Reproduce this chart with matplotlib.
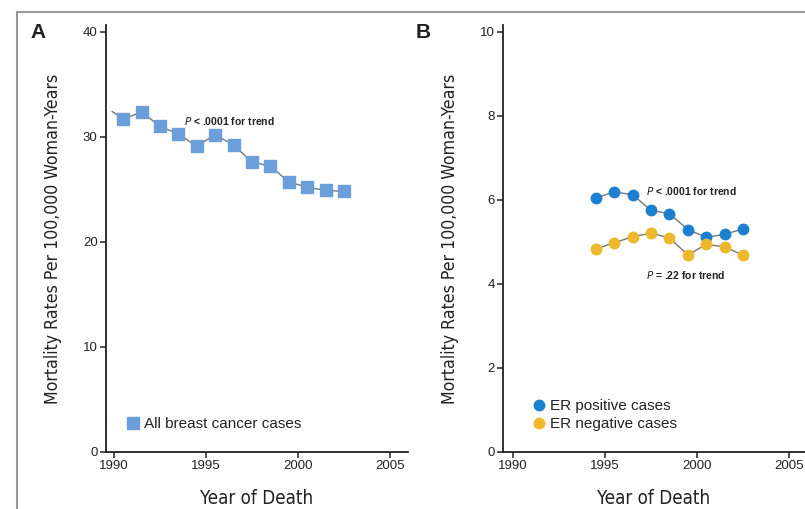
import matplotlib.pyplot as plt
from matplotlib.lines import Line2D

plt.rcParams["font.family"] = ["Liberation Sans", "DejaVu Sans"]

# Panel A: all breast cancer cases (first entry is the line start only)
years_a = [1989.9, 1990.5, 1991.5, 1992.5, 1993.5, 1994.5, 1995.5, 1996.5,
           1997.5, 1998.5, 1999.5, 2000.5, 2001.5, 2002.5]
rate_all = [32.4, 31.7, 32.35, 31.0, 30.25, 29.1, 30.2, 29.2,
            27.6, 27.2, 25.7, 25.2, 24.9, 24.8]

# Panel B: by ER status
years_b = [1994.5, 1995.5, 1996.5, 1997.5, 1998.5, 1999.5, 2000.5, 2001.5, 2002.5]
rate_er_pos = [6.04, 6.19, 6.12, 5.75, 5.67, 5.29, 5.11, 5.18, 5.31]
rate_er_neg = [4.83, 4.98, 5.12, 5.21, 5.09, 4.69, 4.94, 4.88, 4.68]

xticks = [1990, 1995, 2000, 2005]
ylabel = "Mortality Rates Per 100,000 Woman-Years"
xlabel = "Year of Death"

txt = "#222222"
line_col = "#777777"
sq_col = "#6A9FDB"
pos_col = "#1C7FD0"
neg_col = "#EDB82A"

W, H = 805, 509
fig = plt.figure(figsize=(W / 100, H / 100), dpi=100)

lab_font = dict(family=["DejaVu Sans", "Liberation Sans"], stretch="condensed")


def px_axes(left, top, right, bottom):
    return fig.add_axes([left / W, 1 - bottom / H, (right - left) / W, (bottom - top) / H])


def style(ax, ylim, yticks):
    for s in ["top", "right"]:
        ax.spines[s].set_visible(False)
    for s in ["left", "bottom"]:
        ax.spines[s].set_linewidth(1.3)
        ax.spines[s].set_color("#222222")
    ax.set_ylim(ylim)
    ax.set_yticks(yticks)
    ax.set_xticks(xticks)
    ax.tick_params(direction="out", length=4, width=1.1, colors="#222222",
                   labelsize=9.5, labelcolor=txt, pad=2)
    ax.set_xlabel(xlabel, fontsize=13.5, color=txt, labelpad=12, **lab_font)
    ax.set_ylabel(ylabel, fontsize=12.7, color=txt, labelpad=15, **lab_font)


# Panel A
ax1 = px_axes(106, 25, 408, 452)
ax1.set_xlim(1989.56, 2005.98)
ax1.plot(years_a, rate_all, color=line_col, lw=1.0, marker="s", ms=8.5,
         mfc=sq_col, mec=sq_col, markevery=list(range(1, len(years_a))), zorder=3)
style(ax1, (0, 40.64), [0, 10, 20, 30, 40])
ax1.text(1993.8, 31.5, "$\\it{P}$ < .0001 for trend", fontsize=7.5, color=txt,
         fontweight="bold", va="center")
ax1.legend(handles=[Line2D([], [], ls="none", marker="s", ms=8, mfc=sq_col, mec=sq_col,
                           label="All breast cancer cases")],
           loc="lower left", bbox_to_anchor=(0.05, 0.035), frameon=False,
           fontsize=11, handlelength=0.8, handletextpad=0.3, borderaxespad=0,
           labelcolor=txt)

# Panel B
ax2 = px_axes(503, 25, 805, 452)
ax2.set_xlim(1989.47, 2005.85)
ax2.plot(years_b, rate_er_pos, color=line_col, lw=1.0, marker="o", ms=7.5,
         mfc=pos_col, mec=pos_col, zorder=3, label="ER positive cases")
ax2.plot(years_b, rate_er_neg, color=line_col, lw=1.0, marker="o", ms=7.5,
         mfc=neg_col, mec=neg_col, zorder=3, label="ER negative cases")
style(ax2, (0, 10.16), [0, 2, 4, 6, 8, 10])
ax2.text(1997.2, 6.2, "$\\it{P}$ < .0001 for trend", fontsize=7.5, color=txt,
         fontweight="bold", va="center")
ax2.text(1997.2, 4.2, "$\\it{P}$ = .22 for trend", fontsize=7.5, color=txt,
         fontweight="bold", va="center")
hb = [Line2D([], [], ls="none", marker="o", ms=7.5, mfc=c, mec=c, label=l)
      for c, l in [(pos_col, "ER positive cases"), (neg_col, "ER negative cases")]]
ax2.legend(handles=hb, loc="lower left", bbox_to_anchor=(0.08, 0.035), frameon=False,
           fontsize=11, handlelength=0.8, handletextpad=0.3, borderaxespad=0,
           labelspacing=0.25, labelcolor=txt)

# panel letters
fig.text(30 / W, 1 - 33 / H, "A", fontsize=15, fontweight="bold", color=txt, va="center")
fig.text(416 / W, 1 - 33 / H, "B", fontsize=15, fontweight="bold", color=txt, va="center")

# frame around figure
fig.add_artist(Line2D([17 / W, 1], [1 - 12 / H, 1 - 12 / H], color="#999999", lw=1.5))
fig.add_artist(Line2D([17 / W, 17 / W], [0, 1 - 12 / H], color="#999999", lw=1.5))

fig.savefig("out.png", dpi=100)
